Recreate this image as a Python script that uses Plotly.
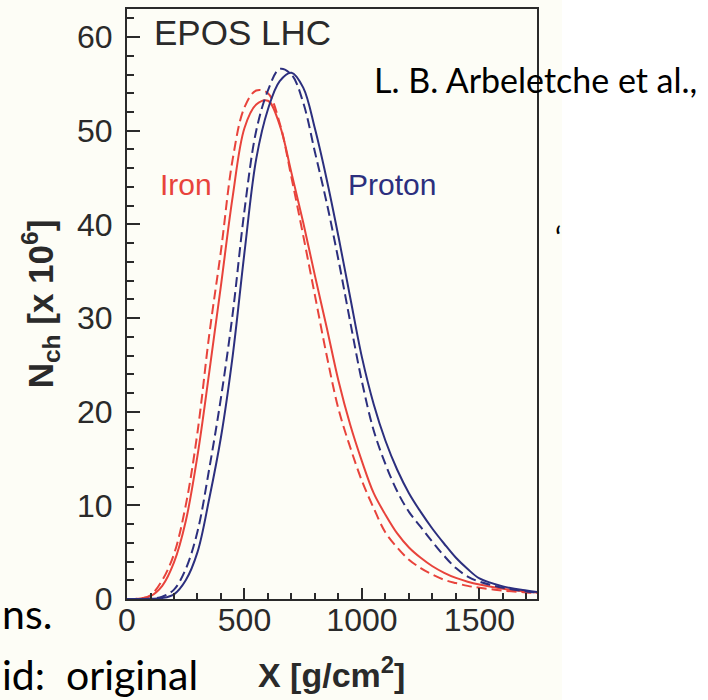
import plotly.graph_objects as go

# Depth grid [g/cm^2]
depth = [0, 50, 100, 150, 200, 250, 300, 350, 400, 450, 500, 550, 600, 650, 700,
         750, 800, 850, 900, 950, 1000, 1050, 1100, 1150, 1200, 1250, 1300, 1350,
         1400, 1450, 1500, 1600, 1700, 1745]

# N_ch [x 10^6]
iron_solid = [0, 0.03, 0.3, 1.4, 3.9, 8.3, 15.3, 24.2, 33.5, 43.0, 50.3, 52.8, 53.2,
              50.6, 45.5, 40.2, 34.5, 29.0, 23.3, 18.6, 14.7, 11.3, 9.0, 7.0, 5.5,
              4.4, 3.5, 2.8, 2.25, 1.85, 1.55, 1.1, 0.8, 0.7]
iron_dashed = [0, 0.04, 0.4, 2.0, 4.8, 10.0, 17.8, 28.2, 37.2, 47.0, 52.5, 54.3, 54.0,
               50.8, 45.0, 38.8, 32.4, 26.0, 20.3, 16.2, 12.6, 9.7, 7.1, 5.5, 4.2,
               3.3, 2.6, 2.05, 1.7, 1.4, 1.2, 0.9, 0.7, 0.65]
proton_solid = [0, 0, 0.02, 0.1, 0.5, 2.0, 5.0, 10.7, 17.3, 26.0, 37.0, 47.0, 52.3,
                55.3, 56.2, 54.6, 50.2, 44.8, 38.7, 32.2, 25.8, 20.8, 16.9, 13.8, 11.3,
                9.3, 7.5, 5.9, 4.4, 3.2, 2.2, 1.35, 0.9, 0.75]
proton_dashed = [0, 0, 0.03, 0.25, 1.0, 3.2, 7.2, 13.9, 21.5, 30.5, 41.5, 50.0, 54.3,
                 56.6, 56.0, 53.0, 47.7, 42.3, 36.2, 29.6, 23.2, 18.0, 14.4, 11.5, 9.3,
                 7.7, 6.1, 4.6, 3.3, 2.4, 1.85, 1.2, 0.8, 0.7]

x_ticks = [0, 500, 1000, 1500]
y_ticks = [0, 10, 20, 30, 40, 50, 60]

RED = "#E8433B"
NAVY = "#2C2F7E"
AXIS = "#2a2a2a"
CREAM = "#FDFDF6"
FONT = "Liberation Sans"
SLIDE_FONT = "Lato"

series = [
    ("Iron", iron_solid, RED, "solid"),
    ("Iron (dashed)", iron_dashed, RED, "10px,5px"),
    ("Proton", proton_solid, NAVY, "solid"),
    ("Proton (dashed)", proton_dashed, NAVY, "10px,5px"),
]

fig = go.Figure()
for name, vals, col, dash in series:
    fig.add_trace(go.Scatter(
        x=depth, y=vals, mode="lines", name=name,
        line=dict(color=col, width=2, dash=dash, shape="spline", smoothing=1.0),
        showlegend=False,
    ))

W, H = 708, 700
L, R, T, B = 127, 537, 7, 599


def px_x(p):
    return (p - L) / (R - L)


def px_y(p):
    return (B - p) / (B - T)


fig.update_layout(
    width=W, height=H,
    margin=dict(l=L, r=W - R, t=T, b=H - B),
    paper_bgcolor=CREAM,
    plot_bgcolor="rgba(0,0,0,0)",
    font=dict(family=FONT, color=AXIS),
    shapes=[dict(type="rect", xref="paper", yref="paper",
                 x0=px_x(562), x1=px_x(W + 5), y0=px_y(H + 5), y1=px_y(-5),
                 fillcolor="white", line=dict(width=0), layer="below")],
)

fig.update_xaxes(
    range=[0, 1745], tickvals=x_ticks, ticktext=[str(v) for v in x_ticks],
    ticks="inside", ticklen=11, tickwidth=2, tickcolor=AXIS,
    minor=dict(dtick=100, tick0=0, ticks="inside", ticklen=6, tickwidth=1.5, tickcolor=AXIS),
    showline=True, linecolor=AXIS, linewidth=2, mirror=True,
    showgrid=False, zeroline=False,
    tickfont=dict(family=FONT, size=32, color=AXIS),
    ticklabelstandoff=-8,
)
fig.update_yaxes(
    range=[0, 63], tickvals=y_ticks, ticktext=[str(v) for v in y_ticks],
    ticks="inside", ticklen=13, tickwidth=2, tickcolor=AXIS,
    minor=dict(dtick=2, tick0=0, ticks="inside", ticklen=6.5, tickwidth=1.5, tickcolor=AXIS),
    showline=True, linecolor=AXIS, linewidth=2, mirror=True,
    showgrid=False, zeroline=False,
    tickfont=dict(family=FONT, size=32, color=AXIS),
    ticklabelstandoff=6,
    title=dict(text="<b>N<sub>ch</sub> [x 10<sup>6</sup>]</b>",
               font=dict(family=FONT, size=35, color=AXIS), standoff=13),
)

annots = [
    dict(text="<b>X [g/cm<sup>2</sup>]</b>", x=px_x(331), y=px_y(673), xanchor="center",
         yanchor="middle", font=dict(family=FONT, size=34, color=AXIS)),
    dict(text="EPOS LHC", x=px_x(152), y=px_y(31), xanchor="left", yanchor="middle",
         font=dict(family=FONT, size=35, color=AXIS)),
    dict(text="Iron", x=px_x(186), y=px_y(183), xanchor="center", yanchor="middle",
         font=dict(family=FONT, size=30, color=RED)),
    dict(text="Proton", x=px_x(392), y=px_y(183), xanchor="center", yanchor="middle",
         font=dict(family=FONT, size=30, color=NAVY)),
    dict(text="L. B. Arbeletche et al.,", x=px_x(372), y=px_y(78), xanchor="left",
         yanchor="middle", font=dict(family=SLIDE_FONT, size=34, color="black")),
    dict(text="ns.", x=px_x(0), y=px_y(614), xanchor="left", yanchor="middle",
         font=dict(family=SLIDE_FONT, size=41, color="black")),
    dict(text="id:\u00a0\u00a0original", x=px_x(0), y=px_y(675), xanchor="left",
         yanchor="middle", font=dict(family=SLIDE_FONT, size=41, color="black")),
    dict(text="‘", x=px_x(558), y=px_y(236), xanchor="center", yanchor="middle",
         font=dict(family=SLIDE_FONT, size=30, color="black")),
]
for a in annots:
    a.update(xref="paper", yref="paper", showarrow=False)
fig.update_layout(annotations=annots)

fig.write_html(
    "out.html",
    config={"displayModeBar": False},
    post_script="document.documentElement.style.margin='0';"
                "document.body.style.margin='0';"
                "document.body.style.overflow='hidden';"
                "document.documentElement.style.overflow='hidden';",
)
